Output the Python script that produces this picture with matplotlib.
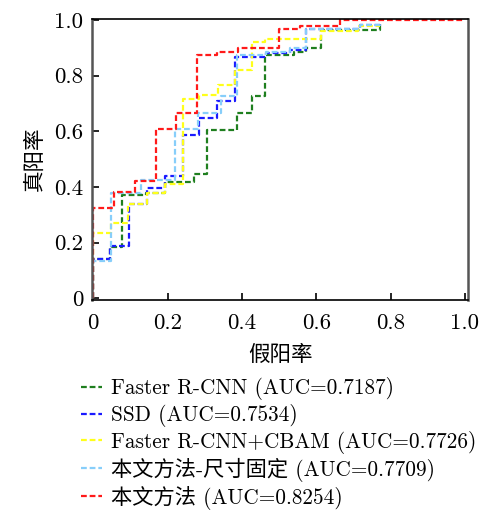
import matplotlib
matplotlib.use('Agg')
import matplotlib.pyplot as plt

# ROC points (false positive rate, true positive rate)
green_fpr = [0, 0, 0.044, 0.077, 0.143, 0.194, 0.271, 0.307, 0.386, 0.426, 0.462, 0.539, 0.572, 0.614, 0.771]
green_tpr = [0, 0.141, 0.183, 0.372, 0.380, 0.417, 0.447, 0.605, 0.665, 0.725, 0.875, 0.885, 0.900, 0.965, 0.990]

blue_fpr = [0, 0, 0.044, 0.096, 0.145, 0.194, 0.241, 0.286, 0.334, 0.381, 0.466, 0.529, 0.572, 0.717, 0.771]
blue_tpr = [0, 0.141, 0.188, 0.338, 0.396, 0.440, 0.585, 0.647, 0.710, 0.867, 0.881, 0.893, 0.968, 0.983, 0.990]

yellow_fpr = [0, 0, 0.047, 0.095, 0.145, 0.194, 0.241, 0.286, 0.335, 0.381, 0.426, 0.462, 0.614, 0.712, 0.771]
yellow_tpr = [0, 0.234, 0.270, 0.338, 0.378, 0.410, 0.717, 0.731, 0.767, 0.821, 0.921, 0.932, 0.959, 0.977, 0.977]

lb_fpr = [0, 0, 0.047, 0.129, 0.221, 0.282, 0.345, 0.386, 0.466, 0.529, 0.572, 0.717, 0.771]
lb_tpr = [0, 0.134, 0.378, 0.425, 0.608, 0.665, 0.725, 0.873, 0.885, 0.900, 0.969, 0.983, 0.990]

red_fpr = [0, 0, 0.057, 0.113, 0.170, 0.223, 0.279, 0.334, 0.390, 0.500, 0.556, 0.665, 1.0]
red_tpr = [0, 0.324, 0.381, 0.423, 0.608, 0.665, 0.875, 0.885, 0.899, 0.969, 0.977, 1.0, 1.0]

labels = ['Faster R-CNN (AUC=0.7187)', 'SSD (AUC=0.7534)', 'Faster R-CNN+CBAM (AUC=0.7726)',
          '本文方法-尺寸固定 (AUC=0.7709)', '本文方法 (AUC=0.8254)']
colors = ['#1f7f1f', '#1a1aff', '#ffff1a', '#87cefa', '#ff1a1a']
ticks = [0, 0.2, 0.4, 0.6, 0.8, 1.0]
tick_labels = ['0', '0.2', '0.4', '0.6', '0.8', '1.0']

fam = ['cmr10', 'Noto Sans CJK SC']
cjk = ['Noto Sans CJK SC']

fig = plt.figure(figsize=(4.81, 5.14), dpi=100)
ax = fig.add_axes([0.1906, 0.4173, 0.783, 0.5467])

series = [(green_fpr, green_tpr), (blue_fpr, blue_tpr), (yellow_fpr, yellow_tpr),
          (lb_fpr, lb_tpr), (red_fpr, red_tpr)]
for (x, y), c, lab in zip(series, colors, labels):
    ax.plot(x, y, drawstyle='steps-post', color=c, lw=1.6,
            linestyle=(0, (2.6, 1.3)), label=lab)

ax.set_xlim(-0.004, 1.009)
ax.set_ylim(-0.004, 1.005)
ax.set_xticks(ticks)
ax.set_xticklabels(tick_labels, family=fam, fontsize=16.5)
ax.set_yticks(ticks)
ax.set_yticklabels(tick_labels, family=fam, fontsize=16.5)
ax.tick_params(direction='in', length=5, width=1.2, top=False, right=False)
ax.tick_params(axis='x', pad=10)
ax.tick_params(axis='y', pad=6)

for s in ['left', 'right']:
    ax.spines[s].set_color('#555555')
    ax.spines[s].set_linewidth(1.8)
for s in ['top', 'bottom']:
    ax.spines[s].set_color('black')
    ax.spines[s].set_linewidth(1.2)

ax.set_xlabel('假阳率', family=cjk, fontsize=15.5, labelpad=8)
ax.set_ylabel('真阳率', family=cjk, fontsize=15.5, labelpad=6)

fig.legend(loc='upper left', bbox_to_anchor=(0.1675, 0.266), frameon=False,
           prop={'family': fam, 'size': 15.3}, handlelength=1.0, handletextpad=0.45,
           labelspacing=0.18, borderaxespad=0, borderpad=0)

plt.savefig('out.png', dpi=100)
